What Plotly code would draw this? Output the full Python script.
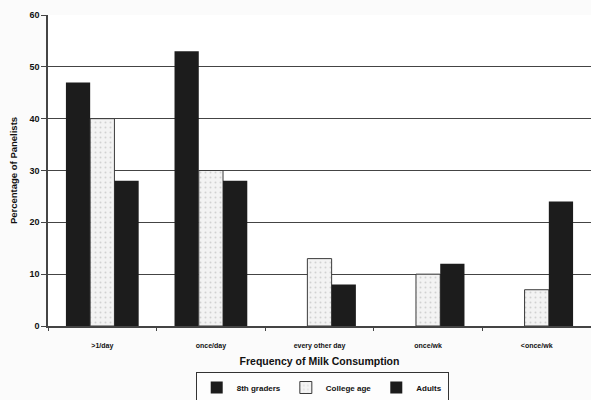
import plotly.graph_objects as go

# Milk consumption frequency by age group (percentage of panelists)
categories = [">1/day", "once/day", "every other day", "once/wk", "<once/wk"]
eighth_graders = [47, 53, 0, 0, 0]
college_age = [40, 30, 13, 10, 7]
adults = [28, 28, 8, 12, 24]
y_ticks = [0, 10, 20, 30, 40, 50, 60]

DARK = "#1c1c1c"
FONT = "Liberation Sans"

fig = go.Figure()
fig.add_trace(go.Bar(
    name="8th graders", x=categories, y=eighth_graders,
    marker=dict(color=DARK, line=dict(width=0)),
))
fig.add_trace(go.Bar(
    name="College age", x=categories, y=college_age,
    marker=dict(
        color="#f3f3f3",
        line=dict(color="#3a3a3a", width=1),
        pattern=dict(shape=".", fgcolor="#b0b0b0", bgcolor="#f3f3f3",
                     size=5, solidity=0.12),
    ),
))
fig.add_trace(go.Bar(
    name="Adults", x=categories, y=adults,
    marker=dict(color=DARK, line=dict(width=0)),
))

fig.update_layout(
    width=591, height=400,
    margin=dict(l=48, r=0, t=15, b=74, autoexpand=False),
    paper_bgcolor="#fbfbfb", plot_bgcolor="#ffffff",
    barmode="group", bargap=0.33, bargroupgap=0.0,
    font=dict(family=FONT, color="#111111"),
    showlegend=True,
    legend=dict(
        orientation="h", x=0.505, xanchor="center",
        yref="container", y=0.07, yanchor="top",
        bordercolor="#333333", borderwidth=1, bgcolor="#fdfdfd",
        font=dict(family=FONT, size=8, color="#111111", weight="bold"),
        itemwidth=30, tracegroupgap=0,
    ),
    xaxis=dict(
        type="category", range=[-0.5, 4.5], automargin=False,
        showline=True, linecolor="#444444", linewidth=1.5,
        ticks="outside", tickson="boundaries", ticklen=3, tickcolor="#444444",
        ticklabelstandoff=12,
        tickfont=dict(size=7, weight="bold", color="#111111"),
        title=dict(text="Frequency of Milk Consumption", standoff=8,
                   font=dict(size=10.5, weight="bold", color="#111111")),
    ),
    yaxis=dict(
        range=[0, 60], tickvals=y_ticks, automargin=False,
        showgrid=True, gridcolor="#444444", gridwidth=1.2,
        showline=True, linecolor="#444444", linewidth=1.5,
        ticks="outside", ticklen=5, tickcolor="#444444",
        tickfont=dict(size=9, weight="bold", color="#111111"),
        title=dict(text="Percentage of Panelists", standoff=10,
                   font=dict(size=9.5, weight="bold", color="#111111")),
        zeroline=False,
    ),
)

fig.write_html("out.html")
